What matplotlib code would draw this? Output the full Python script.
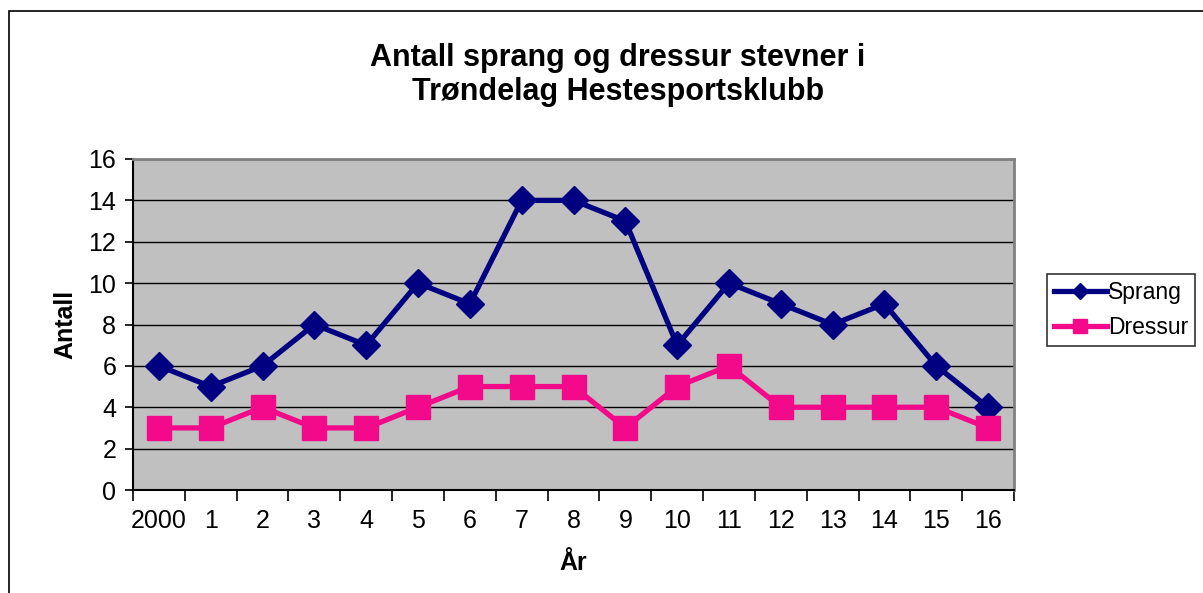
import matplotlib
matplotlib.use("Agg")
import matplotlib.pyplot as plt
from matplotlib.patches import Rectangle

plt.rcParams["font.family"] = ["Liberation Sans", "DejaVu Sans"]

# ── Data ──────────────────────────────────────────────────────────────────────
years = ["2000", "1", "2", "3", "4", "5", "6", "7", "8", "9",
         "10", "11", "12", "13", "14", "15", "16"]
sprang = [6, 5, 6, 8, 7, 10, 9, 14, 14, 13, 7, 10, 9, 8, 9, 6, 4]
dressur = [3, 3, 4, 3, 3, 4, 5, 5, 5, 3, 5, 6, 4, 4, 4, 4, 3]

NAVY = "#000080"
PINK = "#F20A8A"

# ── Figure ────────────────────────────────────────────────────────────────────
W, H = 1203, 593
fig = plt.figure(figsize=(W / 100, H / 100), dpi=100)

# outer chart frame
fig.patches.append(Rectangle((8.5 / W, -0.1), 1.2, (H - 11) / H + 0.1,
                             transform=fig.transFigure, fill=False,
                             edgecolor="black", linewidth=1.2))

left, right, top, bottom = 133, 1014, 159, 490
ax = fig.add_axes([left / W, 1 - bottom / H, (right - left) / W, (bottom - top) / H])
ax.set_facecolor("#C0C0C0")

x = list(range(len(years)))
ax.plot(x, sprang, color=NAVY, lw=3.8, marker="D", ms=14, label="Sprang", zorder=3)
ax.plot(x, dressur, color=PINK, lw=3.8, marker="s", ms=17, label="Dressur", zorder=3)

ax.set_xlim(-0.5, len(years) - 0.5)
ax.set_ylim(0, 16)
ax.set_yticks(range(0, 17, 2))
ax.yaxis.grid(True, color="black", lw=1)
ax.set_axisbelow(True)

# category ticks sit between the categories, labels centred on them
ax.set_xticks([i - 0.5 for i in range(len(years) + 1)])
ax.set_xticklabels([])
ax.set_xticks(x, minor=True)
ax.set_xticklabels(years, minor=True)
ax.tick_params(axis="x", which="major", direction="out", length=8, width=1.2)
ax.tick_params(axis="x", which="minor", length=0, labelsize=18, pad=14)
ax.tick_params(axis="y", direction="out", length=6, width=1.2, labelsize=18, pad=6)

for s in ("left", "bottom"):
    ax.spines[s].set_color("black")
    ax.spines[s].set_linewidth(1.5)
for s in ("top", "right"):
    ax.spines[s].set_color("#808080")
    ax.spines[s].set_linewidth(2)

ax.set_xlabel("År", fontsize=18, fontweight="bold", labelpad=13)
ax.set_ylabel("Antall", fontsize=18, fontweight="bold", labelpad=8)

fig.text(618 / W, 1 - 75 / H, "Antall sprang og dressur stevner i\nTrøndelag Hestesportsklubb",
         ha="center", va="center", fontsize=22, fontweight="bold", linespacing=1.2)

leg = fig.legend(loc="center left", bbox_to_anchor=(1047 / W, 1 - 310 / H),
                 fontsize=16.5, frameon=True, fancybox=False, edgecolor="black",
                 handlelength=2.3, handletextpad=0.05, borderpad=0.3,
                 labelspacing=0.55, borderaxespad=0, markerscale=0.6)
leg.get_frame().set_linewidth(1.2)

fig.savefig("out.png", dpi=100, facecolor="white")
